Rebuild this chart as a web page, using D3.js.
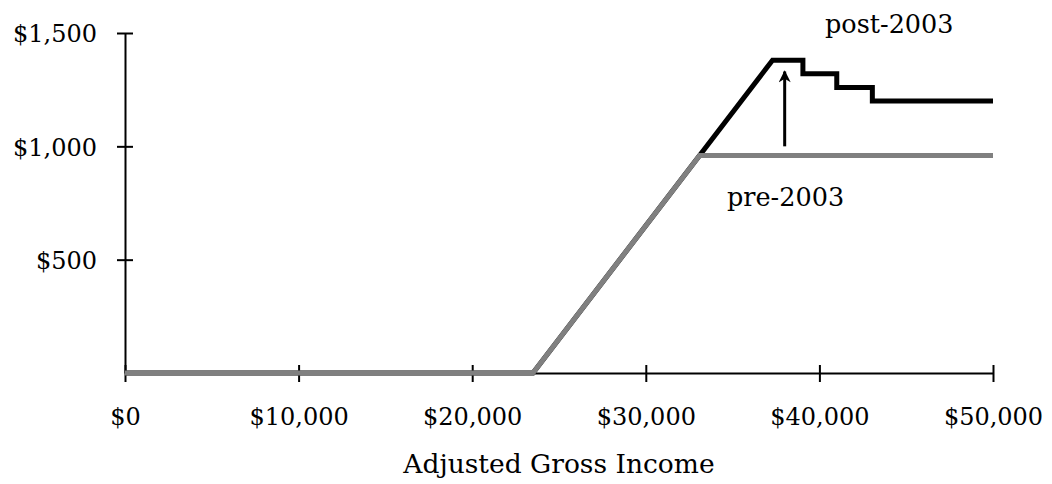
<!DOCTYPE html>
<html>
<head>
<meta charset="utf-8">
<script src="https://cdn.jsdelivr.net/npm/d3@7"></script>
<style>
  body { margin: 0; background: #fff; }
  svg text { font-family: "DejaVu Serif", "Liberation Serif", serif; fill: #000; }
  .tick text { font-size: 24px; }
  .label { font-size: 25.5px; }
  .axislabel { font-size: 26.5px; }
</style>
</head>
<body>
<svg id="chart" width="1052" height="484"></svg>
<script>
// x: adjusted gross income, y: credit amount
const xTicks = [0, 10000, 20000, 30000, 40000, 50000];
const yTicks = [500, 1000, 1500];

const preIncome = [0, 23500, 33100, 50000];
const preCredit = [0, 0, 960, 960];

const postIncome = [0, 23500, 37300, 39050, 39050, 41000, 41000, 43050, 43050, 50000];
const postCredit = [0, 0, 1380, 1380, 1320, 1320, 1260, 1260, 1200, 1200];

const arrowIncome = [38000, 38000];
const arrowCredit = [1000, 1330];

const svg = d3.select("#chart");

let xScale = d3.scaleLinear().domain([0, 50000]).range([125, 993]);
let yScale = d3.scaleLinear().domain([0, 1500]).range([373, 33]);

let money = d3.format("$,");

let xAxis = d3.axisBottom(xScale).tickValues(xTicks).tickFormat(money)
    .tickSizeInner(8).tickSizeOuter(0).tickPadding(22);
let yAxis = d3.axisLeft(yScale).tickValues(yTicks).tickFormat(money)
    .tickSizeInner(8).tickSizeOuter(0).tickPadding(20);

let gx = svg.append("g").attr("transform", "translate(0,373)").call(xAxis);
let gy = svg.append("g").attr("transform", "translate(125,0)").call(yAxis);

// ticks cross the axis line on both sides
gx.selectAll(".tick line").attr("y1", -8).attr("y2", 9).attr("stroke-width", 2);
gy.selectAll(".tick line").attr("x1", -8).attr("x2", 8).attr("stroke-width", 2);
gx.select(".domain").attr("stroke-width", 2);
gy.select(".domain").attr("stroke-width", 2);
gx.attr("font-family", null).attr("font-size", null);
gy.attr("font-family", null).attr("font-size", null);
gx.selectAll(".tick text").attr("y", 52).attr("dy", 0);
gy.selectAll(".tick text").attr("dy", "0.37em");

let line = d3.line().x(d => xScale(d[0])).y(d => yScale(d[1]));

svg.append("path")
    .attr("d", line(d3.zip(postIncome, postCredit)))
    .attr("fill", "none").attr("stroke", "#000").attr("stroke-width", 5)
    .attr("stroke-linejoin", "miter");

svg.append("path")
    .attr("d", line(d3.zip(preIncome, preCredit)))
    .attr("fill", "none").attr("stroke", "#808080").attr("stroke-width", 5)
    .attr("stroke-linejoin", "miter");

// arrow from old to new credit
svg.append("defs").append("marker")
    .attr("id", "head").attr("viewBox", "0 0 10 10")
    .attr("refX", 9).attr("refY", 5)
    .attr("markerWidth", 5).attr("markerHeight", 4)
    .attr("markerUnits", "strokeWidth")
    .attr("orient", "auto")
    .append("path").attr("d", "M0,0 L10,5 L0,10 L3,5 Z").attr("fill", "#000");

svg.append("line")
    .attr("x1", xScale(arrowIncome[0])).attr("y1", yScale(arrowCredit[0]))
    .attr("x2", xScale(arrowIncome[1])).attr("y2", yScale(arrowCredit[1]))
    .attr("stroke", "#000").attr("stroke-width", 3)
    .attr("marker-end", "url(#head)");

svg.append("text").attr("class", "label")
    .attr("x", 825).attr("y", 33).text("post-2003");
svg.append("text").attr("class", "label")
    .attr("x", 727).attr("y", 206).text("pre-2003");
svg.append("text").attr("class", "axislabel")
    .attr("x", 559).attr("y", 473).attr("text-anchor", "middle")
    .text("Adjusted Gross Income");
</script>
</body>
</html>
